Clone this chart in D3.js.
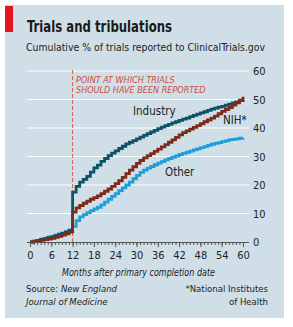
<!DOCTYPE html>
<html>
<head>
<meta charset="utf-8">
<script src="https://cdn.jsdelivr.net/npm/d3@7"></script>
<style>
  body { margin: 0; background: #fff; }
  svg text { font-family: "DejaVu Sans Condensed", "Liberation Sans Narrow", sans-serif; }
</style>
</head>
<body>
<div id="chart"></div>
<script>
// months after primary completion date
var months = d3.range(0, 61);
var xTicks = [0, 6, 12, 18, 24, 30, 36, 42, 48, 54, 60];
var yTicks = [0, 10, 20, 30, 40, 50, 60];

// cumulative % reported, one value per month
var industry = [0, 0.3, 0.6, 0.9, 1.2, 1.5, 1.8, 2.2, 2.6, 3.0, 3.5, 4.2,
  17.5, 19.5, 21, 22, 23, 24.5, 26, 27, 28.3, 29.3, 30.3, 31.2, 32, 32.8, 33.6, 34.4,
  35, 35.6, 36.2, 36.8, 37.4, 38, 38.6, 39.2, 39.8, 40.3, 40.8, 41.3, 41.8, 42.2,
  42.7, 43.1, 43.5, 44, 44.4, 44.9, 45.3, 45.7, 46.2, 46.6, 47, 47.3, 47.6, 48,
  48.4, 48.8, 49.2, 49.6, 49.8];
var nih = [0, 0.2, 0.4, 0.6, 0.8, 1.0, 1.3, 1.6, 2.0, 2.4, 2.9, 3.5,
  10.5, 12, 12.8, 13.6, 14.3, 15, 15.6, 16.2, 17, 17.8, 18.6, 19.5, 20.5, 21.5, 22.7,
  24, 25.2, 26.4, 27.6, 28.6, 29.5, 30.3, 31, 31.8, 32.6, 33.4, 34.2, 35, 35.8, 36.7,
  37.6, 38.4, 39, 39.6, 40.2, 40.8, 41.5, 42.2, 42.8, 43.5, 44.2, 45, 45.8, 46.5,
  47.2, 48, 48.8, 49.8, 51];
var other = [0, 0.3, 0.6, 1.0, 1.3, 1.7, 2.0, 2.4, 2.8, 3.2, 3.6, 4.1,
  5.5, 7.5, 8.8, 9.6, 10.3, 11, 11.6, 12.2, 13, 14, 15, 16, 17, 18, 19, 20, 21, 22.2,
  23.4, 24.4, 25.2, 25.9, 26.5, 27.1, 27.7, 28.2, 28.8, 29.3, 29.8, 30.2, 30.7, 31.1,
  31.5, 31.9, 32.3, 32.7, 33.1, 33.5, 33.9, 34.3, 34.6, 34.9, 35.2, 35.5, 35.8, 36,
  36.2, 36.4, 36.5];

var seriesNames = ["Other", "Industry", "NIH*"];
var seriesValues = [other, industry, nih];
var colors = ["#1f9fd9", "#0e5266", "#7d2a1b"];

var W = 293, H = 327;
var svg = d3.select("#chart").append("svg")
  .attr("width", W).attr("height", H);

// panel background
svg.append("rect").attr("x", 5).attr("y", 5).attr("width", 279).attr("height", 313)
  .attr("fill", "#d0dfe7");
svg.append("rect").attr("x", 5).attr("y", 6).attr("width", 8).attr("height", 26)
  .attr("fill", "#e3161f");

svg.append("text").attr("x", 27).attr("y", 32)
  .attr("font-size", 15.5).attr("font-weight", "bold").attr("fill", "#1a1a1a")
  .attr("textLength", 145).attr("lengthAdjust", "spacingAndGlyphs")
  .text("Trials and tribulations");
svg.append("text").attr("x", 26).attr("y", 51)
  .attr("font-size", 11).attr("fill", "#222")
  .attr("textLength", 239).attr("lengthAdjust", "spacingAndGlyphs")
  .text("Cumulative % of trials reported to ClinicalTrials.gov");

var x = d3.scaleLinear().domain([0, 60]).range([30, 243]);
var y = d3.scaleLinear().domain([0, 60]).range([242, 71]);

// gridlines
svg.append("g").selectAll("line")
  .data(yTicks.filter(function (d) { return d > 0; }))
  .enter().append("line")
  .attr("x1", 27).attr("x2", 249)
  .attr("y1", function (d) { return y(d); })
  .attr("y2", function (d) { return y(d); })
  .attr("stroke", "#fff").attr("stroke-width", 1.2);

// y labels on the right
svg.append("g").selectAll("text")
  .data(yTicks)
  .enter().append("text")
  .attr("x", 253)
  .attr("y", function (d) { return y(d) + 4; })
  .attr("font-size", 11).attr("fill", "#222")
  .text(function (d) { return d; });

// dashed line at month 12
svg.append("line")
  .attr("x1", x(12)).attr("x2", x(12))
  .attr("y1", 70).attr("y2", y(0))
  .attr("stroke", "#e0584a").attr("stroke-width", 1)
  .attr("stroke-dasharray", "4,2");
svg.append("text").attr("x", 76).attr("y", 83)
  .attr("font-size", 9).attr("font-style", "italic").attr("fill", "#cf4a3c")
  .text("POINT AT WHICH TRIALS");
svg.append("text").attr("x", 76).attr("y", 93)
  .attr("font-size", 9).attr("font-style", "italic").attr("fill", "#cf4a3c")
  .text("SHOULD HAVE BEEN REPORTED");

// lines
var line = d3.line()
  .x(function (d, i) { return x(months[i]); })
  .y(function (d) { return y(d); })
  .curve(d3.curveStepAfter);

svg.append("g").selectAll("path")
  .data(seriesValues)
  .enter().append("path")
  .attr("d", line)
  .attr("fill", "none")
  .attr("stroke", function (d, i) { return colors[i]; })
  .attr("stroke-width", 2.8);

// x axis: minor ticks every month, labels every 6
var minor = svg.append("g")
  .attr("transform", "translate(0," + y(0) + ")")
  .call(d3.axisBottom(x).tickValues(months).tickSize(3).tickFormat("").tickSizeOuter(0));
minor.select(".domain").attr("stroke", "#555").attr("d", "M27,0.5H249");
minor.selectAll(".tick line").attr("stroke", "#555");

var major = svg.append("g")
  .attr("transform", "translate(0," + y(0) + ")")
  .call(d3.axisBottom(x).tickValues(xTicks).tickSize(5).tickPadding(4));
major.select(".domain").remove();
major.selectAll(".tick line").attr("stroke", "#555");
major.selectAll("text").attr("font-size", 11).attr("fill", "#222")
  .style("font-family", "DejaVu Sans Condensed, sans-serif");

svg.append("text").attr("x", 62).attr("y", 276)
  .attr("font-size", 10).attr("font-style", "italic").attr("fill", "#222")
  .attr("textLength", 153).attr("lengthAdjust", "spacingAndGlyphs")
  .text("Months after primary completion date");

// series labels
var labelPos = [[165, 176], [133, 115], [223, 124]];
svg.append("g").selectAll("text")
  .data(seriesNames)
  .enter().append("text")
  .attr("x", function (d, i) { return labelPos[i][0]; })
  .attr("y", function (d, i) { return labelPos[i][1]; })
  .attr("font-size", 11.5).attr("fill", "#222")
  .text(function (d) { return d; });

// footer
var src = svg.append("text").attr("x", 26).attr("y", 292)
  .attr("font-size", 9.5).attr("fill", "#222");
src.append("tspan").text("Source: ");
src.append("tspan").attr("font-style", "italic").text("New England");
svg.append("text").attr("x", 26).attr("y", 305)
  .attr("font-size", 9.5).attr("font-style", "italic").attr("fill", "#222")
  .text("Journal of Medicine");
svg.append("text").attr("x", 268).attr("y", 292).attr("text-anchor", "end")
  .attr("font-size", 9.5).attr("fill", "#222")
  .text("*National Institutes");
svg.append("text").attr("x", 268).attr("y", 305).attr("text-anchor", "end")
  .attr("font-size", 9.5).attr("fill", "#222")
  .text("of Health");
</script>
</body>
</html>
